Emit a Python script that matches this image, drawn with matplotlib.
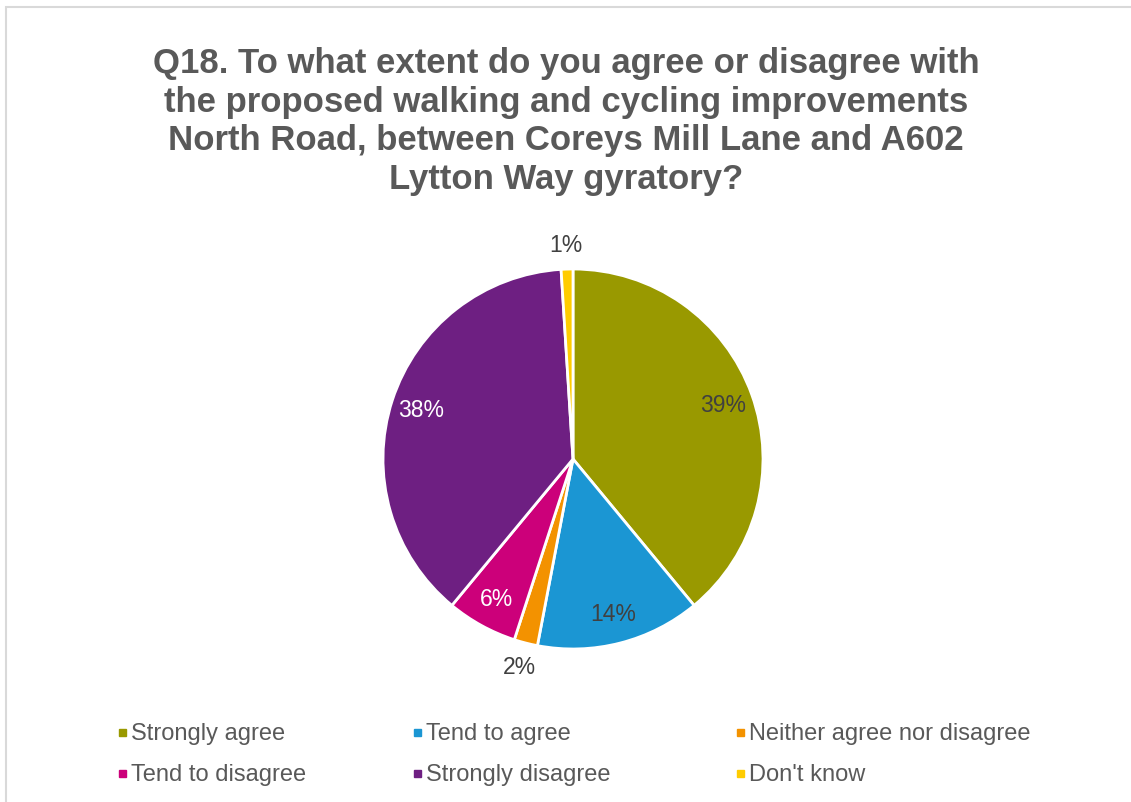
import numpy as np
import matplotlib.pyplot as plt
from matplotlib.patches import Rectangle

# Survey responses for Q18
categories = ["Strongly agree", "Tend to agree", "Neither agree nor disagree",
              "Tend to disagree", "Strongly disagree", "Don't know"]
shares = [39, 14, 2, 6, 38, 1]
colors = ["#999900", "#1B96D3", "#F39200", "#CC007A", "#6E1F82", "#FFCC00"]
label_colors = ["#404040", "#404040", "#404040", "#FFFFFF", "#FFFFFF", "#404040"]

title = ("Q18. To what extent do you agree or disagree with\n"
         "the proposed walking and cycling improvements\n"
         "North Road, between Coreys Mill Lane and A602\n"
         "Lytton Way gyratory?")

W, H = 1131, 803
fig = plt.figure(figsize=(W / 100, H / 100), dpi=100)
plt.rcParams['font.family'] = ['Liberation Sans', 'DejaVu Sans']

# light chart border
fig.patches.append(Rectangle((6 / W, -0.01), 1.02, (H - 8) / H + 0.01,
                             transform=fig.transFigure, fill=False,
                             edgecolor="#D9D9D9", linewidth=1.5))

fig.text(566 / W, 1 - 47 / H, title, ha="center", va="top", fontsize=25,
         fontweight="bold", color="#595959", linespacing=1.22)

# pie
cx, cy, r = 573, 460, 190
ax = fig.add_axes([(cx - r) / W, (H - cy - r) / H, 2 * r / W, 2 * r / H])
wedges, _ = ax.pie(shares, colors=colors, startangle=90, counterclock=False,
                   wedgeprops=dict(edgecolor="white", linewidth=2))
ax.set_xlim(-1, 1)
ax.set_ylim(-1, 1)
ax.set_aspect("auto")
ax.axis("off")

for w, val, lc in zip(wedges, shares, label_colors):
    mid = np.deg2rad((w.theta1 + w.theta2) / 2)
    dist = 0.84 if val >= 5 else 1.13
    ax.text(dist * np.cos(mid), dist * np.sin(mid), f"{val}%", ha="center",
            va="center", fontsize=16.5, color=lc, clip_on=False)

# legend
col_x = [122, 417, 740]
row_y = [734, 775]
for i, (name, c) in enumerate(zip(categories, colors)):
    x = col_x[i % 3]
    y = row_y[i // 3]
    fig.patches.append(Rectangle(((x - 3) / W, (H - y - 3) / H), 7 / W, 7 / H,
                                 transform=fig.transFigure, color=c))
    fig.text((x + 9) / W, 1 - y / H, name, ha="left", va="center",
             fontsize=17, color="#595959")

fig.savefig("out.png", dpi=100)
